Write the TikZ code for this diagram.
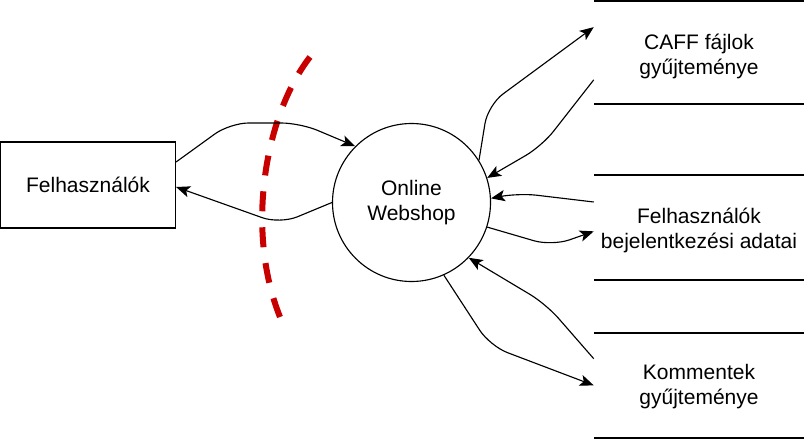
\documentclass[tikz,border=0pt]{standalone}
\usepackage{fontspec}
\setmainfont{Liberation Sans}
\usetikzlibrary{arrows.meta, calc, positioning}
\definecolor{cutred}{RGB}{200,0,0}

\begin{document}
\begin{tikzpicture}
    [x=0.75pt, y=-0.75pt,
    font=\fontsize{15.75}{18.75}\selectfont,
    entity/.style={
        rectangle,
        draw,
        line width=0.85pt,
        minimum width=131.25pt,
        minimum height=64.5pt,
        align=center
    },
    process/.style={
        circle,
        draw,
        line width=0.85pt,
        minimum size=118.5pt,
        inner sep=0pt,
        align=center
    },
    store/.style={
        minimum width=157.5pt,
        inner sep=0pt,
        align=center
    },
    storeline/.style={
        draw, line width=0.85pt
    },
    flow/.style={
        draw, line width=0.85pt, rounded corners=14pt,
        -{Stealth[length=10.5pt, width=8.5pt, inset=2.5pt]}
    },
    boundary/.style={
        draw=cutred, line width=4.5pt, dash pattern=on 15pt off 12pt
    }
    ]

    \useasboundingbox (0,0) rectangle (805,439);

    % External entity and process
    \node[entity] (users) at (88,185) {Felhasználók};
    \node[process] (shop) at (411.5,202.5) {Online\\Webshop};

    % Data stores
    \node[store] (caff) at (699,56.5) {CAFF fájlok\\gyűjteménye};
    \node[store] (login) at (699,230) {Felhasználók\\bejelentkezési adatai};
    \node[store] (comments) at (699,386.7) {Kommentek\\gyűjteménye};
    \foreach \y in {1,104,175,280,333,438}{
        \draw[storeline] (594,\y) -- (804,\y);
    }

    % Trust boundary
    \draw[boundary] (310,57) .. controls (265,115) and (245,230) .. (280,317);

    % Flows between user and webshop
    \draw[flow] ([yshift=17.25pt]users.east) -- (230,123) -- (300,123) -- (shop.135);
    \draw[flow] (shop.180) -- (280,224) -- ([yshift=-1.5pt]users.east);

    % Flows between webshop and stores
    \draw[flow] (shop.32) -- (488,105) -- ([yshift=22pt]caff.west);
    \draw[flow] ([yshift=-17.5pt]caff.west) -- (542,146) -- (shop.18);
    \draw[flow] ([yshift=21pt]login.west) -- (518,193) -- (shop.3);
    \draw[flow] (shop.-18) -- (552,246) -- ([yshift=-1pt]login.west);
    \draw[flow] ([yshift=21pt]comments.west) -- (546,304) -- (shop.-44.5);
    \draw[flow] (shop.-66) -- (490,346) -- ([yshift=1pt]comments.west);
\end{tikzpicture}
\end{document}
